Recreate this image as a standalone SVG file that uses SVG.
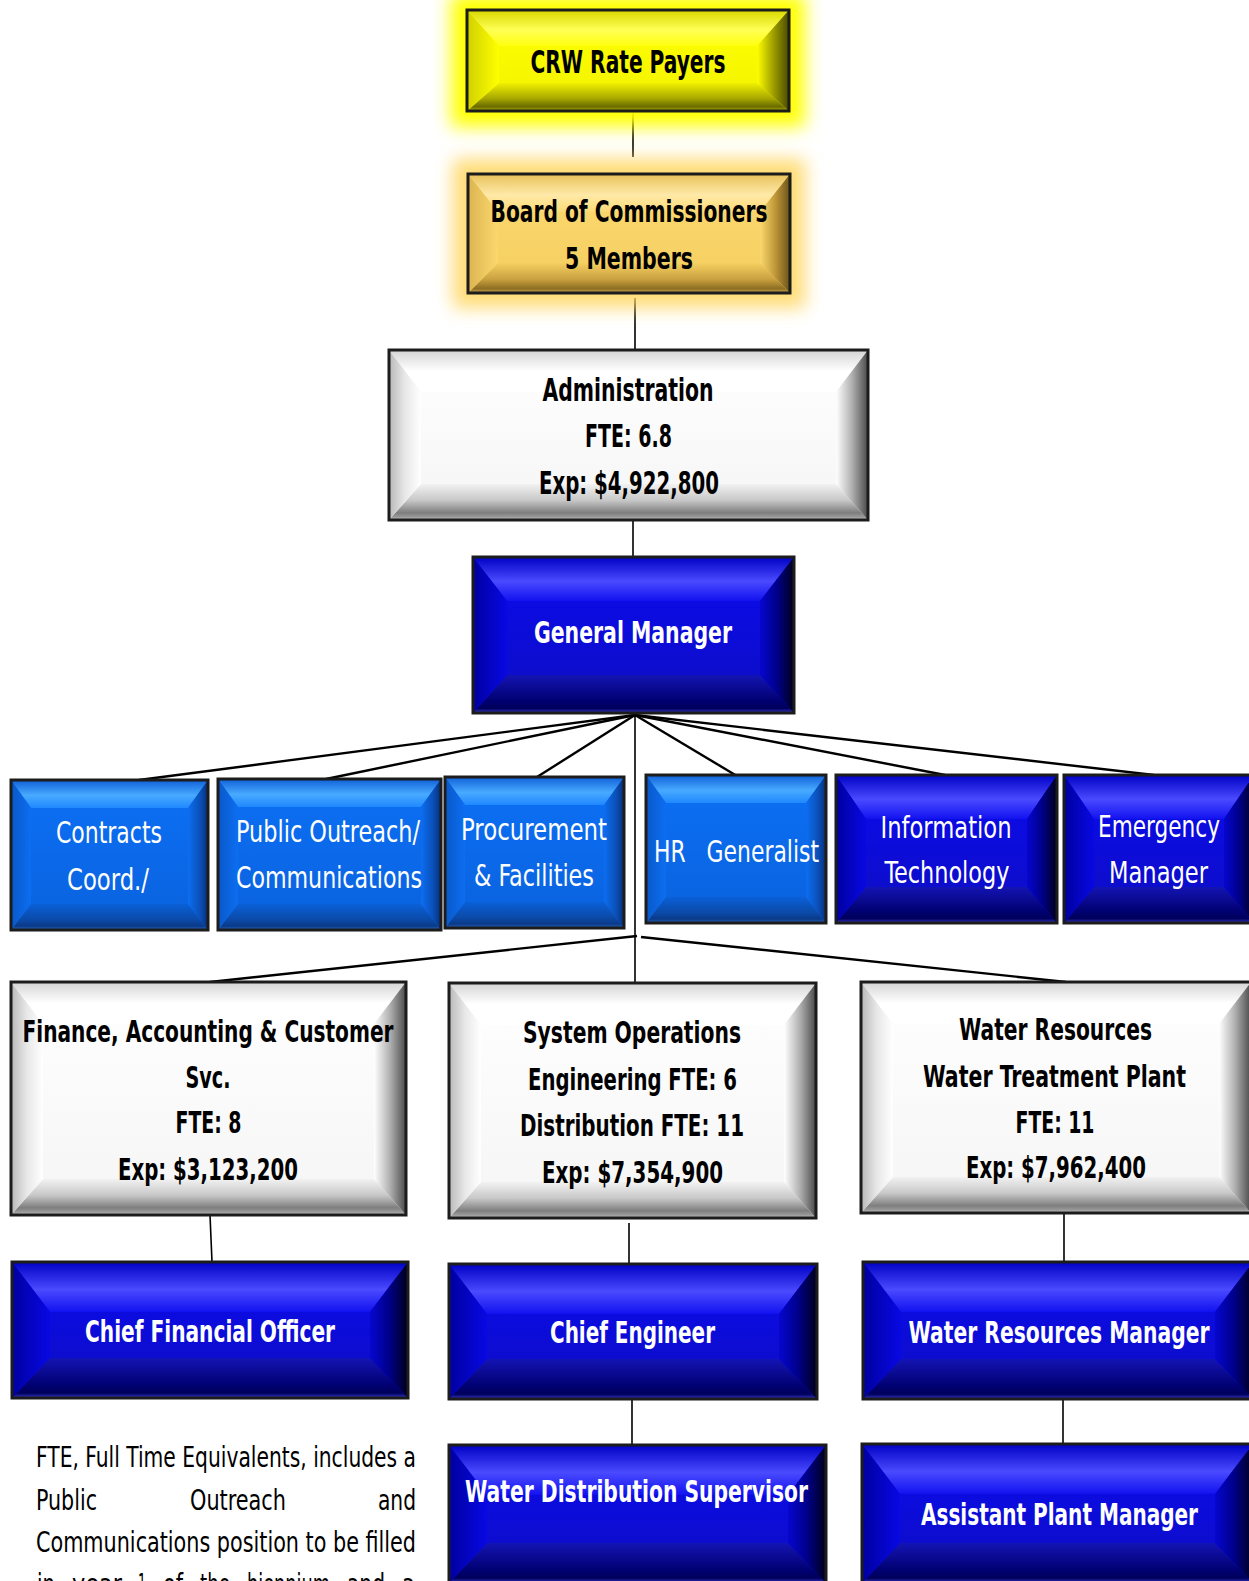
<svg xmlns="http://www.w3.org/2000/svg" width="1249" height="1581" viewBox="0 0 1249 1581">
  <defs>
    <style>
      .conn { fill: none; stroke: #000; stroke-width: 1.6; }
      .fan { fill: none; stroke: #000; stroke-width: 2.4; }
      .frame { fill: none; stroke: #1c1c1c; stroke-width: 3; }
      .lbl { font-family: "Liberation Sans Narrow", "DejaVu Sans Condensed", "Liberation Sans", Arial, sans-serif; text-anchor: middle; }
      .bold { font-weight: bold; }
      .dark { fill: #000; }
      .white { fill: #fff; }
      .note { font-family: "Liberation Sans Narrow", "DejaVu Sans Condensed", "Liberation Sans", Arial, sans-serif; font-size: 28px; fill: #000; }
      /* dark blue bevel */
      .db-in { fill: url(#dbIn); } .db-t { fill: url(#dbTop); } .db-b { fill: url(#dbBot); } .db-l { fill: url(#dbLeft); } .db-r { fill: url(#dbRight); }
      /* light blue bevel */
      .lb-in { fill: url(#lbIn); } .lb-t { fill: url(#lbTop); } .lb-b { fill: url(#lbBot); } .lb-l { fill: url(#lbLeft); } .lb-r { fill: url(#lbRight); }
      /* white bevel */
      .wh-in { fill: url(#whIn); } .wh-t { fill: url(#whTop); } .wh-b { fill: url(#whBot); } .wh-l { fill: url(#whLeft); } .wh-r { fill: url(#whRight); }
      /* yellow bevel */
      .ye-in { fill: url(#yeIn); } .ye-t { fill: url(#yeTop); } .ye-b { fill: url(#yeBot); } .ye-l { fill: url(#yeLeft); } .ye-r { fill: url(#yeRight); }
      /* gold bevel */
      .go-in { fill: url(#goIn); } .go-t { fill: url(#goTop); } .go-b { fill: url(#goBot); } .go-l { fill: url(#goLeft); } .go-r { fill: url(#goRight); }
    </style>

    <filter id="glow" x="-30%" y="-60%" width="160%" height="220%">
      <feGaussianBlur stdDeviation="9"/>
    </filter>

    <!-- dark blue -->
    <linearGradient id="dbIn" x1="0" y1="0" x2="0" y2="1"><stop offset="0" stop-color="#0a0af0"/><stop offset="1" stop-color="#0e0ec2"/></linearGradient>
    <linearGradient id="dbTop" x1="0" y1="0" x2="0" y2="1"><stop offset="0" stop-color="#0000c4"/><stop offset="0.55" stop-color="#4a4aff"/><stop offset="1" stop-color="#1212f0"/></linearGradient>
    <linearGradient id="dbBot" x1="0" y1="0" x2="0" y2="1"><stop offset="0" stop-color="#1414b4"/><stop offset="0.7" stop-color="#000070"/><stop offset="0.88" stop-color="#00005a"/><stop offset="1" stop-color="#3a3ad4"/></linearGradient>
    <linearGradient id="dbLeft" x1="0" y1="0" x2="1" y2="0"><stop offset="0" stop-color="#0000a0"/><stop offset="1" stop-color="#0808e4"/></linearGradient>
    <linearGradient id="dbRight" x1="0" y1="0" x2="1" y2="0"><stop offset="0" stop-color="#0606d0"/><stop offset="0.5" stop-color="#00008a"/><stop offset="1" stop-color="#00001a"/></linearGradient>

    <!-- light blue -->
    <linearGradient id="lbIn" x1="0" y1="0" x2="0" y2="1"><stop offset="0" stop-color="#0c70f5"/><stop offset="1" stop-color="#0a62de"/></linearGradient>
    <linearGradient id="lbTop" x1="0" y1="0" x2="0" y2="1"><stop offset="0" stop-color="#1060d8"/><stop offset="0.55" stop-color="#48aaff"/><stop offset="1" stop-color="#2088ff"/></linearGradient>
    <linearGradient id="lbBot" x1="0" y1="0" x2="0" y2="1"><stop offset="0" stop-color="#0a60d8"/><stop offset="0.6" stop-color="#0b4aa8"/><stop offset="0.85" stop-color="#0a3a88"/><stop offset="1" stop-color="#2a68c0"/></linearGradient>
    <linearGradient id="lbLeft" x1="0" y1="0" x2="1" y2="0"><stop offset="0" stop-color="#0a58c8"/><stop offset="1" stop-color="#0c6ef2"/></linearGradient>
    <linearGradient id="lbRight" x1="0" y1="0" x2="1" y2="0"><stop offset="0" stop-color="#0c6ef2"/><stop offset="0.6" stop-color="#0a50b8"/><stop offset="1" stop-color="#082e78"/></linearGradient>

    <!-- white -->
    <linearGradient id="whIn" x1="0" y1="0" x2="0" y2="1"><stop offset="0" stop-color="#ffffff"/><stop offset="1" stop-color="#f5f5f5"/></linearGradient>
    <linearGradient id="whTop" x1="0" y1="0" x2="0" y2="1"><stop offset="0" stop-color="#d4d4d4"/><stop offset="0.5" stop-color="#ffffff"/><stop offset="1" stop-color="#ffffff"/></linearGradient>
    <linearGradient id="whBot" x1="0" y1="0" x2="0" y2="1"><stop offset="0" stop-color="#f2f2f2"/><stop offset="0.45" stop-color="#c8c8c8"/><stop offset="0.8" stop-color="#7e7e7e"/><stop offset="0.92" stop-color="#9a9a9a"/><stop offset="1" stop-color="#d0d0d0"/></linearGradient>
    <linearGradient id="whLeft" x1="0" y1="0" x2="1" y2="0"><stop offset="0" stop-color="#b8b8b8"/><stop offset="0.5" stop-color="#e8e8e8"/><stop offset="1" stop-color="#ffffff"/></linearGradient>
    <linearGradient id="whRight" x1="0" y1="0" x2="1" y2="0"><stop offset="0" stop-color="#ffffff"/><stop offset="0.5" stop-color="#b0b0b0"/><stop offset="1" stop-color="#4a4a4a"/></linearGradient>

    <!-- yellow -->
    <linearGradient id="yeIn" x1="0" y1="0" x2="0" y2="1"><stop offset="0" stop-color="#ffff00"/><stop offset="1" stop-color="#f2f200"/></linearGradient>
    <linearGradient id="yeTop" x1="0" y1="0" x2="0" y2="1"><stop offset="0" stop-color="#d8d800"/><stop offset="0.55" stop-color="#ffff55"/><stop offset="1" stop-color="#ffff10"/></linearGradient>
    <linearGradient id="yeBot" x1="0" y1="0" x2="0" y2="1"><stop offset="0" stop-color="#f0f000"/><stop offset="0.55" stop-color="#a8a800"/><stop offset="0.85" stop-color="#6a6a00"/><stop offset="1" stop-color="#b8b800"/></linearGradient>
    <linearGradient id="yeLeft" x1="0" y1="0" x2="1" y2="0"><stop offset="0" stop-color="#d0d000"/><stop offset="1" stop-color="#ffff00"/></linearGradient>
    <linearGradient id="yeRight" x1="0" y1="0" x2="1" y2="0"><stop offset="0" stop-color="#ffff00"/><stop offset="0.5" stop-color="#a0a000"/><stop offset="1" stop-color="#4a4a00"/></linearGradient>

    <!-- gold -->
    <linearGradient id="goIn" x1="0" y1="0" x2="0" y2="1"><stop offset="0" stop-color="#fcda72"/><stop offset="1" stop-color="#f4cd5e"/></linearGradient>
    <linearGradient id="goTop" x1="0" y1="0" x2="0" y2="1"><stop offset="0" stop-color="#e8c25a"/><stop offset="0.55" stop-color="#ffe9a8"/><stop offset="1" stop-color="#fcda74"/></linearGradient>
    <linearGradient id="goBot" x1="0" y1="0" x2="0" y2="1"><stop offset="0" stop-color="#f5cf60"/><stop offset="0.55" stop-color="#c9a040"/><stop offset="0.85" stop-color="#8d6e22"/><stop offset="1" stop-color="#c8a450"/></linearGradient>
    <linearGradient id="goLeft" x1="0" y1="0" x2="1" y2="0"><stop offset="0" stop-color="#dcb450"/><stop offset="1" stop-color="#fbd86e"/></linearGradient>
    <linearGradient id="goRight" x1="0" y1="0" x2="1" y2="0"><stop offset="0" stop-color="#fbd86e"/><stop offset="0.5" stop-color="#c09838"/><stop offset="1" stop-color="#6a521a"/></linearGradient>
  </defs>

  <rect width="1249" height="1581" fill="#fff"/>

  <!-- connectors -->
  <g id="connectors">
    <path class="conn" d="M633 111 V157"/>
    <path class="conn" d="M635 298 V350"/>
    <path class="conn" d="M633 520 V557"/>
    <path class="fan" d="M635 715 L139 780"/>
    <path class="fan" d="M635 715 L326 779"/>
    <path class="fan" d="M635 715 L537 777"/>
    <path class="fan" d="M635 715 L747 782"/>
    <path class="fan" d="M635 715 L945 775"/>
    <path class="fan" d="M635 715 L1154 775"/>
    <path class="conn" d="M635 715 V983"/>
    <path class="fan" d="M637 936 L210 982"/>
    <path class="fan" d="M641 937 L1066 982"/>
    <path class="conn" d="M210 1215 L212 1262"/>
    <path class="conn" d="M629 1223 V1264"/>
    <path class="conn" d="M632 1399 V1445"/>
    <path class="conn" d="M1064 1213 V1262"/>
    <path class="conn" d="M1063 1399 V1444"/>
  </g>

  <!-- CRW Rate Payers -->
  <g id="node-rate-payers">
    <rect x="451" y="-6" width="354" height="133" fill="#ffff00" filter="url(#glow)"/>
    <rect class="ye-in" x="467" y="10" width="322" height="101"/>
    <polygon class="ye-t" points="467,10 789,10 757,46 499,46"/>
    <polygon class="ye-b" points="467,111 789,111 757,83 499,83"/>
    <polygon class="ye-l" points="467,10 499,46 499,83 467,111"/>
    <polygon class="ye-r" points="789,10 757,46 757,83 789,111"/>
    <rect class="frame" x="467" y="10" width="322" height="101"/>
    <text class="lbl bold dark" x="628" y="73" font-size="32" textLength="195" lengthAdjust="spacingAndGlyphs">CRW Rate Payers</text>
  </g>

  <!-- Board of Commissioners -->
  <g id="node-board">
    <rect x="453" y="159" width="352" height="149" fill="#ffd65c" opacity="0.85" filter="url(#glow)"/>
    <rect class="go-in" x="468" y="174" width="322" height="119"/>
    <polygon class="go-t" points="468,174 790,174 760,212 498,212"/>
    <polygon class="go-b" points="468,293 790,293 760,263 498,263"/>
    <polygon class="go-l" points="468,174 498,212 498,263 468,293"/>
    <polygon class="go-r" points="790,174 760,212 760,263 790,293"/>
    <rect class="frame" x="468" y="174" width="322" height="119"/>
    <text class="lbl bold dark" x="629" y="222" font-size="31" textLength="277" lengthAdjust="spacingAndGlyphs">Board of Commissioners</text>
    <text class="lbl bold dark" x="629" y="269" font-size="31" textLength="128" lengthAdjust="spacingAndGlyphs">5 Members</text>
  </g>

  <!-- Administration -->
  <g id="node-administration">
    <rect class="wh-in" x="389" y="350" width="479" height="170"/>
    <polygon class="wh-t" points="389,350 868,350 836,392 421,392"/>
    <polygon class="wh-b" points="389,520 868,520 836,484 421,484"/>
    <polygon class="wh-l" points="389,350 421,392 421,484 389,520"/>
    <polygon class="wh-r" points="868,350 836,392 836,484 868,520"/>
    <rect class="frame" x="389" y="350" width="479" height="170"/>
    <text class="lbl bold dark" x="628" y="401" font-size="32" textLength="171" lengthAdjust="spacingAndGlyphs">Administration</text>
    <text class="lbl bold dark" x="628.5" y="447" font-size="32" textLength="87" lengthAdjust="spacingAndGlyphs">FTE: 6.8</text>
    <text class="lbl bold dark" x="629" y="494" font-size="32" textLength="180" lengthAdjust="spacingAndGlyphs">Exp: $4,922,800</text>
  </g>

  <!-- General Manager -->
  <g id="node-general-manager">
    <rect class="db-in" x="473" y="557" width="321" height="156"/>
    <polygon class="db-t" points="473,557 794,557 760,601 507,601"/>
    <polygon class="db-b" points="473,713 794,713 760,675 507,675"/>
    <polygon class="db-l" points="473,557 507,601 507,675 473,713"/>
    <polygon class="db-r" points="794,557 760,601 760,675 794,713"/>
    <rect class="frame" x="473" y="557" width="321" height="156"/>
    <text class="lbl bold white" x="633" y="643" font-size="31" textLength="198" lengthAdjust="spacingAndGlyphs">General Manager</text>
  </g>

  <!-- Contracts Coord. -->
  <g id="node-contracts">
    <rect class="lb-in" x="11" y="780" width="197" height="150"/>
    <polygon class="lb-t" points="11,780 208,780 188,808 31,808"/>
    <polygon class="lb-b" points="11,930 208,930 188,904 31,904"/>
    <polygon class="lb-l" points="11,780 31,808 31,904 11,930"/>
    <polygon class="lb-r" points="208,780 188,808 188,904 208,930"/>
    <rect class="frame" x="11" y="780" width="197" height="150"/>
    <text class="lbl white" x="109" y="843" font-size="31" textLength="106" lengthAdjust="spacingAndGlyphs">Contracts</text>
    <text class="lbl white" x="108" y="890" font-size="31" textLength="82" lengthAdjust="spacingAndGlyphs">Coord./</text>
  </g>

  <!-- Public Outreach / Communications -->
  <g id="node-public-outreach">
    <rect class="lb-in" x="218" y="779" width="223" height="151"/>
    <polygon class="lb-t" points="218,779 441,779 421,807 238,807"/>
    <polygon class="lb-b" points="218,930 441,930 421,904 238,904"/>
    <polygon class="lb-l" points="218,779 238,807 238,904 218,930"/>
    <polygon class="lb-r" points="441,779 421,807 421,904 441,930"/>
    <rect class="frame" x="218" y="779" width="223" height="151"/>
    <text class="lbl white" x="328" y="842" font-size="31" textLength="184" lengthAdjust="spacingAndGlyphs">Public Outreach/</text>
    <text class="lbl white" x="329" y="888" font-size="31" textLength="186" lengthAdjust="spacingAndGlyphs">Communications</text>
  </g>

  <!-- Procurement & Facilities -->
  <g id="node-procurement">
    <rect class="lb-in" x="445" y="777" width="179" height="151"/>
    <polygon class="lb-t" points="445,777 624,777 604,805 465,805"/>
    <polygon class="lb-b" points="445,928 624,928 604,902 465,902"/>
    <polygon class="lb-l" points="445,777 465,805 465,902 445,928"/>
    <polygon class="lb-r" points="624,777 604,805 604,902 624,928"/>
    <rect class="frame" x="445" y="777" width="179" height="151"/>
    <text class="lbl white" x="534" y="840" font-size="31" textLength="146" lengthAdjust="spacingAndGlyphs">Procurement</text>
    <text class="lbl white" x="534" y="886" font-size="31" textLength="120" lengthAdjust="spacingAndGlyphs">&amp; Facilities</text>
  </g>

  <!-- HR Generalist -->
  <g id="node-hr">
    <rect class="lb-in" x="646" y="775" width="180" height="148"/>
    <polygon class="lb-t" points="646,775 826,775 806,803 666,803"/>
    <polygon class="lb-b" points="646,923 826,923 806,897 666,897"/>
    <polygon class="lb-l" points="646,775 666,803 666,897 646,923"/>
    <polygon class="lb-r" points="826,775 806,803 806,897 826,923"/>
    <rect class="frame" x="646" y="775" width="180" height="148"/>
    <text class="lbl white" x="736.5" y="862" font-size="30" textLength="165" lengthAdjust="spacingAndGlyphs" xml:space="preserve">HR   Generalist</text>
  </g>

  <!-- Information Technology -->
  <g id="node-it">
    <rect class="db-in" x="836" y="775" width="221" height="148"/>
    <polygon class="db-t" points="836,775 1057,775 1027,819 866,819"/>
    <polygon class="db-b" points="836,923 1057,923 1027,887 866,887"/>
    <polygon class="db-l" points="836,775 866,819 866,887 836,923"/>
    <polygon class="db-r" points="1057,775 1027,819 1027,887 1057,923"/>
    <rect class="frame" x="836" y="775" width="221" height="148"/>
    <text class="lbl white" x="946" y="838" font-size="31" textLength="131" lengthAdjust="spacingAndGlyphs">Information</text>
    <text class="lbl white" x="947" y="883" font-size="31" textLength="125" lengthAdjust="spacingAndGlyphs">Technology</text>
  </g>

  <!-- Emergency Manager -->
  <g id="node-emergency">
    <rect class="db-in" x="1064" y="775" width="190" height="148"/>
    <polygon class="db-t" points="1064,775 1254,775 1224,819 1094,819"/>
    <polygon class="db-b" points="1064,923 1254,923 1224,887 1094,887"/>
    <polygon class="db-l" points="1064,775 1094,819 1094,887 1064,923"/>
    <polygon class="db-r" points="1254,775 1224,819 1224,887 1254,923"/>
    <rect class="frame" x="1064" y="775" width="190" height="148"/>
    <text class="lbl white" x="1159" y="837" font-size="31" textLength="122" lengthAdjust="spacingAndGlyphs">Emergency</text>
    <text class="lbl white" x="1158.5" y="883" font-size="31" textLength="99" lengthAdjust="spacingAndGlyphs">Manager</text>
  </g>

  <!-- Finance, Accounting & Customer Svc. -->
  <g id="node-finance">
    <rect class="wh-in" x="11" y="982" width="395" height="233"/>
    <polygon class="wh-t" points="11,982 406,982 374,1024 43,1024"/>
    <polygon class="wh-b" points="11,1215 406,1215 374,1179 43,1179"/>
    <polygon class="wh-l" points="11,982 43,1024 43,1179 11,1215"/>
    <polygon class="wh-r" points="406,982 374,1024 374,1179 406,1215"/>
    <rect class="frame" x="11" y="982" width="395" height="233"/>
    <text class="lbl bold dark" x="208" y="1042" font-size="30" textLength="371" lengthAdjust="spacingAndGlyphs">Finance, Accounting &amp; Customer</text>
    <text class="lbl bold dark" x="208" y="1088" font-size="30" textLength="45" lengthAdjust="spacingAndGlyphs">Svc.</text>
    <text class="lbl bold dark" x="208.5" y="1133" font-size="30" textLength="66" lengthAdjust="spacingAndGlyphs">FTE: 8</text>
    <text class="lbl bold dark" x="208" y="1180" font-size="30" textLength="180" lengthAdjust="spacingAndGlyphs">Exp: $3,123,200</text>
  </g>

  <!-- System Operations -->
  <g id="node-system-operations">
    <rect class="wh-in" x="449" y="983" width="367" height="235"/>
    <polygon class="wh-t" points="449,983 816,983 784,1025 481,1025"/>
    <polygon class="wh-b" points="449,1218 816,1218 784,1182 481,1182"/>
    <polygon class="wh-l" points="449,983 481,1025 481,1182 449,1218"/>
    <polygon class="wh-r" points="816,983 784,1025 784,1182 816,1218"/>
    <rect class="frame" x="449" y="983" width="367" height="235"/>
    <text class="lbl bold dark" x="632" y="1043" font-size="30" textLength="218" lengthAdjust="spacingAndGlyphs">System Operations</text>
    <text class="lbl bold dark" x="632.5" y="1090" font-size="30" textLength="209" lengthAdjust="spacingAndGlyphs">Engineering FTE: 6</text>
    <text class="lbl bold dark" x="632" y="1136" font-size="30" textLength="224" lengthAdjust="spacingAndGlyphs">Distribution FTE: 11</text>
    <text class="lbl bold dark" x="632.5" y="1183" font-size="30" textLength="181" lengthAdjust="spacingAndGlyphs">Exp: $7,354,900</text>
  </g>

  <!-- Water Resources -->
  <g id="node-water-resources">
    <rect class="wh-in" x="861" y="982" width="390" height="231"/>
    <polygon class="wh-t" points="861,982 1251,982 1219,1024 893,1024"/>
    <polygon class="wh-b" points="861,1213 1251,1213 1219,1177 893,1177"/>
    <polygon class="wh-l" points="861,982 893,1024 893,1177 861,1213"/>
    <polygon class="wh-r" points="1251,982 1219,1024 1219,1177 1251,1213"/>
    <rect class="frame" x="861" y="982" width="390" height="231"/>
    <text class="lbl bold dark" x="1055.5" y="1040" font-size="30" textLength="193" lengthAdjust="spacingAndGlyphs">Water Resources</text>
    <text class="lbl bold dark" x="1054.5" y="1087" font-size="30" textLength="263" lengthAdjust="spacingAndGlyphs">Water Treatment Plant</text>
    <text class="lbl bold dark" x="1055" y="1133" font-size="30" textLength="79" lengthAdjust="spacingAndGlyphs">FTE: 11</text>
    <text class="lbl bold dark" x="1056" y="1178" font-size="30" textLength="180" lengthAdjust="spacingAndGlyphs">Exp: $7,962,400</text>
  </g>

  <!-- Chief Financial Officer -->
  <g id="node-cfo">
    <rect class="db-in" x="12" y="1262" width="396" height="136"/>
    <polygon class="db-t" points="12,1262 408,1262 370,1312 50,1312"/>
    <polygon class="db-b" points="12,1398 408,1398 370,1358 50,1358"/>
    <polygon class="db-l" points="12,1262 50,1312 50,1358 12,1398"/>
    <polygon class="db-r" points="408,1262 370,1312 370,1358 408,1398"/>
    <rect class="frame" x="12" y="1262" width="396" height="136"/>
    <text class="lbl bold white" x="210" y="1342" font-size="31" textLength="250" lengthAdjust="spacingAndGlyphs">Chief Financial Officer</text>
  </g>

  <!-- Chief Engineer -->
  <g id="node-chief-engineer">
    <rect class="db-in" x="449" y="1264" width="368" height="135"/>
    <polygon class="db-t" points="449,1264 817,1264 779,1314 487,1314"/>
    <polygon class="db-b" points="449,1399 817,1399 779,1359 487,1359"/>
    <polygon class="db-l" points="449,1264 487,1314 487,1359 449,1399"/>
    <polygon class="db-r" points="817,1264 779,1314 779,1359 817,1399"/>
    <rect class="frame" x="449" y="1264" width="368" height="135"/>
    <text class="lbl bold white" x="632.5" y="1343" font-size="31" textLength="165" lengthAdjust="spacingAndGlyphs">Chief Engineer</text>
  </g>

  <!-- Water Resources Manager -->
  <g id="node-wr-manager">
    <rect class="db-in" x="863" y="1262" width="390" height="137"/>
    <polygon class="db-t" points="863,1262 1253,1262 1215,1312 901,1312"/>
    <polygon class="db-b" points="863,1399 1253,1399 1215,1359 901,1359"/>
    <polygon class="db-l" points="863,1262 901,1312 901,1359 863,1399"/>
    <polygon class="db-r" points="1253,1262 1215,1312 1215,1359 1253,1399"/>
    <rect class="frame" x="863" y="1262" width="390" height="137"/>
    <text class="lbl bold white" x="1059" y="1343" font-size="31" textLength="301" lengthAdjust="spacingAndGlyphs">Water Resources Manager</text>
  </g>

  <!-- Water Distribution Supervisor -->
  <g id="node-distribution-supervisor">
    <rect class="db-in" x="449" y="1445" width="377" height="138"/>
    <polygon class="db-t" points="449,1445 826,1445 788,1495 487,1495"/>
    <polygon class="db-b" points="449,1583 826,1583 788,1543 487,1543"/>
    <polygon class="db-l" points="449,1445 487,1495 487,1543 449,1583"/>
    <polygon class="db-r" points="826,1445 788,1495 788,1543 826,1583"/>
    <rect class="frame" x="449" y="1445" width="377" height="138"/>
    <text class="lbl bold white" x="636.5" y="1502" font-size="31" textLength="343" lengthAdjust="spacingAndGlyphs">Water Distribution Supervisor</text>
  </g>

  <!-- Assistant Plant Manager -->
  <g id="node-assistant-plant-manager">
    <rect class="db-in" x="862" y="1444" width="391" height="139"/>
    <polygon class="db-t" points="862,1444 1253,1444 1215,1494 900,1494"/>
    <polygon class="db-b" points="862,1583 1253,1583 1215,1543 900,1543"/>
    <polygon class="db-l" points="862,1444 900,1494 900,1543 862,1583"/>
    <polygon class="db-r" points="1253,1444 1215,1494 1215,1543 1253,1583"/>
    <rect class="frame" x="862" y="1444" width="391" height="139"/>
    <text class="lbl bold white" x="1059.5" y="1525" font-size="31" textLength="277" lengthAdjust="spacingAndGlyphs">Assistant Plant Manager</text>
  </g>

  <!-- footnote, justified paragraph -->
  <g id="footnote">
    <text class="note" x="36" y="1467" textLength="380" lengthAdjust="spacingAndGlyphs">FTE, Full Time Equivalents, includes a</text>
    <text class="note" y="1510"><tspan x="36" textLength="61" lengthAdjust="spacingAndGlyphs">Public</tspan> <tspan x="190" textLength="96" lengthAdjust="spacingAndGlyphs">Outreach</tspan> <tspan x="378" textLength="38" lengthAdjust="spacingAndGlyphs">and</tspan></text>
    <text class="note" x="36" y="1552" textLength="380" lengthAdjust="spacingAndGlyphs">Communications position to be filled</text>
    <text class="note" y="1594"><tspan x="37" textLength="18" lengthAdjust="spacingAndGlyphs">in</tspan> <tspan x="72" textLength="50" lengthAdjust="spacingAndGlyphs">year</tspan> <tspan x="138" textLength="8" lengthAdjust="spacingAndGlyphs">1</tspan> <tspan x="163" textLength="20" lengthAdjust="spacingAndGlyphs">of</tspan> <tspan x="200" textLength="30" lengthAdjust="spacingAndGlyphs">the</tspan> <tspan x="247" textLength="83" lengthAdjust="spacingAndGlyphs">biennium</tspan> <tspan x="347" textLength="38" lengthAdjust="spacingAndGlyphs">and</tspan> <tspan x="402" textLength="13" lengthAdjust="spacingAndGlyphs">a</tspan></text>
  </g>
</svg>
